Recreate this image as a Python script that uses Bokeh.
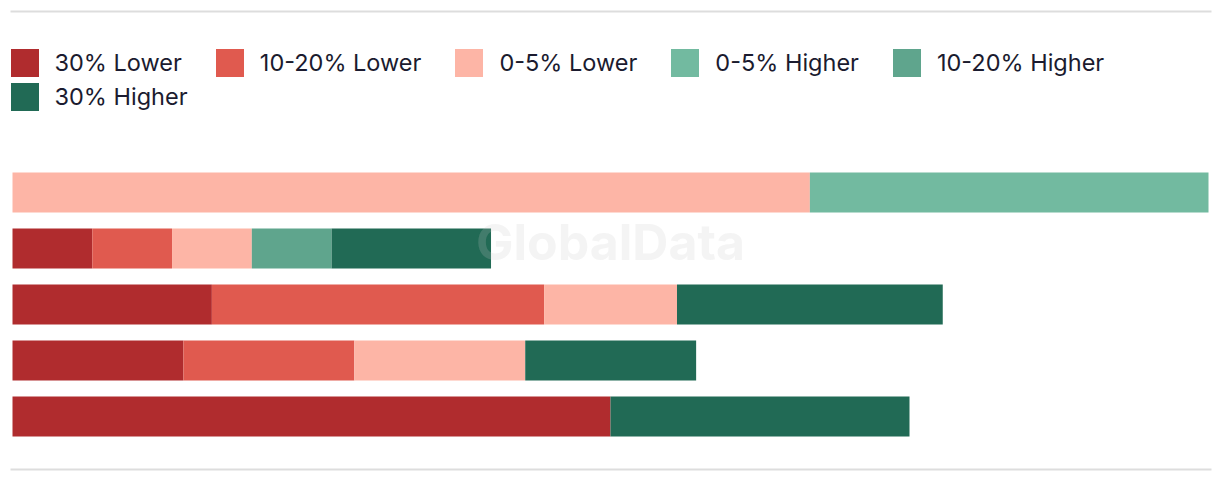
from bokeh.plotting import figure
from bokeh.models import (ColumnDataSource, Range1d, Legend, LegendItem, Label,
                          BoxAnnotation)
from bokeh.embed import file_html
from bokeh.resources import INLINE

# ---------------- data ----------------
rows = [0, 1, 2, 3, 4]  # bar rows, top to bottom (no labels shown)
series = ["30% Lower", "10-20% Lower", "0-5% Lower",
          "0-5% Higher", "10-20% Higher", "30% Higher"]
thirty_lower      = [0.0,   6.67, 16.67, 14.29, 50.0]
ten_twenty_lower  = [0.0,   6.67, 27.78, 14.29, 0.0]
zero_five_lower   = [66.67, 6.67, 11.11, 14.29, 0.0]
zero_five_higher  = [33.33, 0.0,  0.0,   0.0,   0.0]
ten_twenty_higher = [0.0,   6.67, 0.0,   0.0,   0.0]
thirty_higher     = [0.0,  13.33, 22.22, 14.29, 25.0]
colors = ["#b02c2e", "#e05a4f", "#fdb5a6", "#72baa0", "#5fa58d", "#216a55"]

W, H = 1220, 482
X0_PX, X1_PX = 12, 1208          # frame pixels for 0 and 100
ROW0_PX, PITCH = 192, 56         # centre of first bar, row pitch
BAR_H = 40

pxu = (X1_PX - X0_PX) / 100.0
x_range = Range1d(-X0_PX / pxu, 100 + (W - X1_PX) / pxu)
y_range = Range1d(rows[0] + (H - ROW0_PX) / PITCH, rows[0] - ROW0_PX / PITCH)

p = figure(width=W, height=H, output_backend="svg", toolbar_location=None,
           x_range=x_range, y_range=y_range, min_border=0,
           outline_line_color=None, background_fill_color="white",
           border_fill_color="white")
p.axis.visible = False
p.grid.visible = False

src = ColumnDataSource(dict(row=rows,
                            **{"s0": thirty_lower, "s1": ten_twenty_lower,
                               "s2": zero_five_lower, "s3": zero_five_higher,
                               "s4": ten_twenty_higher, "s5": thirty_higher}))
renderers = p.hbar_stack(["s0", "s1", "s2", "s3", "s4", "s5"], y="row",
                         height=BAR_H / PITCH, color=colors, source=src,
                         line_color=None)

# rules top and bottom
def ypx(py):
    return rows[0] + (py - ROW0_PX) / PITCH
def xpx(px):
    return (px - X0_PX) / pxu
for top_px in (10, 468):
    p.add_layout(BoxAnnotation(left=xpx(10), right=xpx(1211),
                               top=ypx(top_px), bottom=ypx(top_px + 2),
                               fill_color="#dddddd", fill_alpha=1,
                               line_color=None, level="underlay"))

# watermark
p.add_layout(Label(x=xpx(610), y=ypx(241), text="GlobalData",
                   text_font="Inter", text_font_style="bold",
                   text_font_size="50px", text_color="#c8c8c8",
                   text_alpha=0.2, text_align="center",
                   text_baseline="middle"))

# legends
def make_legend(items, loc):
    lg = Legend(items=items, orientation="horizontal", location=loc,
                glyph_width=35, glyph_height=35, label_standoff=13,
                spacing=30, padding=0, margin=0,
                border_line_color=None, background_fill_alpha=0,
                label_text_font="Inter", label_text_font_size="23.5px",
                label_text_color="#1b1b2f", label_height=35)
    return lg

items1 = [LegendItem(label=series[i], renderers=[renderers[i]]) for i in range(5)]
items2 = [LegendItem(label=series[5], renderers=[renderers[5]])]
p.add_layout(make_legend(items1, (6.5, H - 79.5)))
p.add_layout(make_legend(items2, (6.5, H - 113.5)))

open("out.html", "w").write(file_html(p, INLINE))
